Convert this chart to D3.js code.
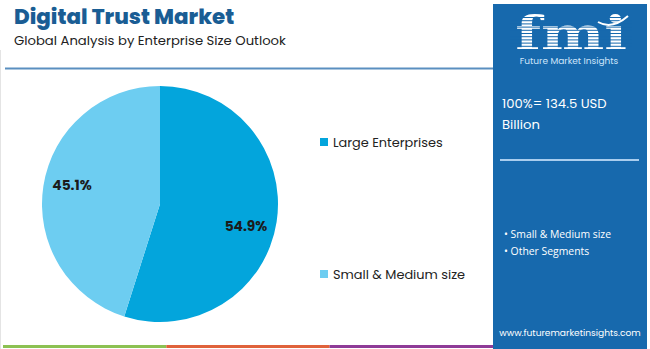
<!DOCTYPE html>
<html><head><meta charset="utf-8">
<script src="https://cdn.jsdelivr.net/npm/d3@7"></script>
<style>html,body{margin:0;padding:0;background:#fff;}svg{display:block;}</style>
</head><body>
<script>
const categories = ["Large Enterprises", "Small & Medium size"];
const shares = [54.9, 45.1];
const colors = ["#03a5dc", "#6dcdf1"];
const title = "Digital Trust Market";
const subtitle = "Global Analysis by Enterprise Size Outlook";
const totalLabel = ["100%= 134.5 USD", "Billion"];
const panelBullets = ["Small & Medium size", "Other Segments"];
const stripeColors = ["#8cc152", "#e0623b", "#8e3b97"];

const W = 650, H = 349;
const svg = d3.select("body").append("svg").attr("width", W).attr("height", H);
const font = "Poppins, 'Open Sans', sans-serif";

// left border
svg.append("line").attr("x1",0.5).attr("x2",0.5).attr("y1",50).attr("y2",H).attr("stroke","#e4e4e4");

// title
svg.append("text").attr("x",14).attr("y",24).text(title)
  .attr("font-family",font).attr("font-weight",800).attr("font-size",21.4).attr("fill","#1a5d94");
svg.append("text").attr("x",14).attr("y",45).text(subtitle)
  .attr("font-family",font).attr("font-size",13.2).attr("fill","#222");
svg.append("line").attr("x1",5).attr("x2",493).attr("y1",68.5).attr("y2",68.5)
  .attr("stroke","#5a8fc0").attr("stroke-width",2);

// pie
const cx = 160, cy = 204, r = 118;
const pie = d3.pie().sort(null).value(d => d)(shares);
const arc = d3.arc().innerRadius(0).outerRadius(r);
const g = svg.append("g").attr("transform", `translate(${cx},${cy})`);
g.selectAll("path").data(pie).join("path").attr("d", arc).attr("fill", (d,i) => colors[i]);
g.selectAll("text.pl").data(pie).join("text").attr("class","pl")
  .attr("x",(d,i)=> i===0? 86 : -88)
  .attr("y",(d,i)=> i===0? 27 : -14)
  .attr("text-anchor","middle").attr("font-family",font).attr("font-weight",700)
  .attr("font-size",13.8).attr("fill","#1b1b1b").text(d => d.value.toFixed(1) + "%");

// legend
const legY = [142, 274];
const leg = svg.append("g");
categories.forEach((c,i) => {
  leg.append("rect").attr("x",320).attr("y",legY[i]-4).attr("width",8).attr("height",8).attr("fill",colors[i]);
  leg.append("text").attr("x",333).attr("y",legY[i]).attr("dy","0.35em").text(c)
    .attr("font-family",font).attr("font-size",12.9).attr("fill","#222");
});

// bottom stripes
const sx = d3.scaleBand().domain(stripeColors).range([3, 493]);
svg.selectAll("rect.st").data(stripeColors).join("rect").attr("class","st")
  .attr("x", d => sx(d)).attr("width", sx.bandwidth()).attr("y",345).attr("height",3).attr("fill", d => d);

// right panel
const px = 493;
svg.append("rect").attr("x",px).attr("y",4).attr("width",154).attr("height",H-4).attr("fill","#1769ad");
// logo
const logo = svg.append("g");
logo.append("text").attr("transform","translate(571,50) scale(1.3,1)").attr("text-anchor","middle").text("fmi")
  .attr("font-family","'DejaVu Serif', serif").attr("font-weight",700).attr("font-size",46).attr("fill","#fff");
for (let y = 17; y < 52; y += 3.2) {
  logo.append("rect").attr("x",510).attr("y",y).attr("width",122).attr("height",1).attr("fill","#1769ad");
}
logo.append("path").attr("d","M598,22 Q612,30 628,16").attr("stroke","#fff").attr("stroke-width",2).attr("fill","none");
logo.append("text").attr("x",569).attr("y",64).attr("text-anchor","middle").text("Future Market Insights")
  .attr("font-family",font).attr("font-size",9).attr("fill","#cfe6fb");

svg.selectAll("text.tl").data(totalLabel).join("text").attr("class","tl")
  .attr("x",502).attr("y",(d,i)=>108+i*21).text(d=>d)
  .attr("font-family",font).attr("font-size",13.2).attr("fill","#fff");
svg.append("line").attr("x1",500).attr("x2",639).attr("y1",160).attr("y2",160)
  .attr("stroke","#a9cdee").attr("stroke-width",2);
panelBullets.forEach((b,i) => {
  svg.append("text").attr("x",504).attr("y",234+i*17).attr("dy","0.35em").text("• " + b)
    .attr("font-family","'Open Sans', sans-serif").attr("font-size",10.4).attr("fill","#fff");
});
svg.append("text").attr("x",570).attr("y",333).attr("dy","0.35em").attr("text-anchor","middle")
  .text("www.futuremarketinsights.com").attr("font-family",font).attr("font-size",9.1).attr("fill","#fff");
</script>
</body></html>
